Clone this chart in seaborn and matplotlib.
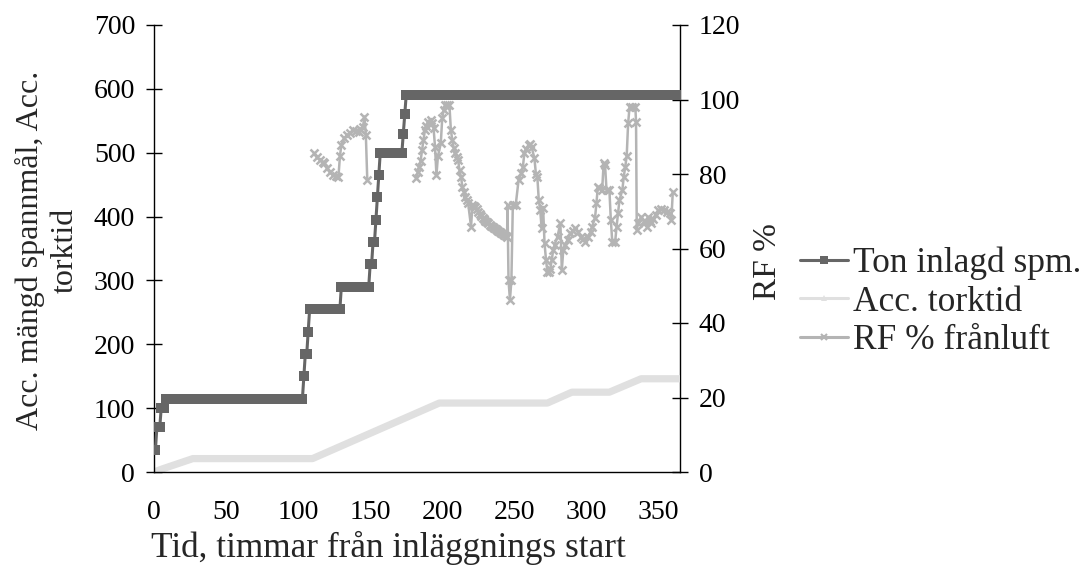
import numpy as np
import pandas as pd
import matplotlib
matplotlib.use("Agg")
import matplotlib.pyplot as plt
from matplotlib.lines import Line2D
import seaborn as sns

# ---------------- data ----------------
# Ton inlagd spm. (step readings: hour where value starts, accumulated tonnes)
ton_step_hours = [0, 2, 5, 8, 104, 105, 107, 108, 130, 150, 152, 154, 155, 156, 157, 173, 174, 175]
ton_step_values = [35, 70, 100, 115, 150, 185, 220, 255, 290, 325, 360, 395, 430, 465, 500, 530, 560, 590]
ton_last_hour = 365

# Acc. torktid (left axis)
tork_hours = [0, 6, 27, 110, 198, 273, 290, 316, 338, 365]
tork_values = [0, 5, 21, 21, 108, 108, 125, 125, 146, 146]

# RF % frånluft (right axis), two recorded periods
rf1_hours = [111, 113, 115, 117, 118, 120, 122, 124, 126, 128, 129, 130, 132, 134, 136, 138, 140,
             142, 143, 145, 146, 147, 148]
rf1_values = [85.6, 84.5, 83.8, 83.2, 82.9, 81.5, 80.5, 79.7, 79.5, 79.3, 84.7, 87.8, 89.6, 90.5,
              91.0, 91.8, 91.5, 91.4, 92.0, 92.7, 95.4, 90.5, 78.4]
rf2_hours = [182, 183, 184, 185, 186, 187, 188, 189, 190, 192, 193, 194, 195, 196, 197, 199, 200,
             201, 202, 203, 205, 206, 207, 208, 209, 210, 211, 212, 213, 214, 215, 216, 217, 218,
             220, 221, 222, 223, 224, 225, 226, 227, 228, 229, 230, 231, 232, 233, 234, 235, 236,
             237, 238, 239, 240, 241, 242, 243, 244, 245, 245.3, 246, 247, 248, 249, 251, 253, 255,
             256, 257, 258, 260, 261, 262, 264, 265, 266, 267, 268, 269, 270, 271, 272, 273, 274,
             275, 276, 277, 278, 280, 282, 283, 284, 285, 287, 289, 291, 292, 294, 296, 298, 299,
             301, 303, 304, 306, 307, 308, 309, 311, 312, 313, 314, 316, 317, 318, 320, 321, 322,
             323, 325, 326, 327, 328, 329, 330, 332, 334, 334.5, 335, 336, 338, 340, 341, 342, 343,
             344, 345, 346, 348, 350, 352, 354, 356, 358, 359, 360]
rf2_values = [78.8, 80.5, 82.0, 83.5, 86.4, 89.0, 91.8, 93.0, 94.0, 94.5, 93.8, 92.3, 87.3, 79.7,
              84.7, 88.2, 95.0, 97.2, 98.5, 98.5, 98.5, 91.8, 89.1, 87.0, 85.6, 84.5, 83.8, 81.0,
              79.3, 76.6, 75.2, 73.9, 73.0, 72.1, 65.9, 71.7, 71.5, 71.2, 70.5, 69.8, 69.2, 68.7,
              68.3, 67.9, 67.5, 67.1, 66.8, 66.4, 66.1, 65.8, 65.6, 65.3, 65.0, 64.8, 64.5, 64.2,
              64.0, 63.7, 63.3, 63.2, 71.7, 51.5, 46.2, 51.5, 71.7, 71.7, 78.4, 80.2, 82.0, 85.6,
              86.8, 87.8, 88.0, 87.3, 84.2, 80.0, 79.3, 73.0, 70.3, 65.4, 71.0, 61.4, 57.0, 53.8,
              53.8, 54.5, 56.9, 59.6, 61.0, 63.2, 66.8, 54.2, 59.6, 61.0, 62.3, 64.1, 64.8, 65.4,
              64.5, 63.2, 62.5, 61.8, 63.2, 64.5, 65.9, 68.1, 72.1, 76.6, 76.2, 75.7, 82.9, 82.4,
              75.7, 75.7, 67.7, 61.8, 61.8, 65.9, 69.4, 73.0, 75.7, 79.3, 82.0, 84.7, 93.6, 98.0,
              98.0, 98.0, 94.0, 65.0, 66.8, 68.5, 67.5, 67.2, 65.9, 68.5, 67.5, 66.8, 68.0, 69.0,
              70.3, 70.5, 70.3, 69.9, 69.4, 67.7, 75.2]

series_labels = ["Ton inlagd spm.", "Acc. torktid", "RF % frånluft"]
x_ticks = [0, 50, 100, 150, 200, 250, 300, 350]
left_ticks = [0, 100, 200, 300, 400, 500, 600, 700]
right_ticks = [0, 20, 40, 60, 80, 100, 120]

# ---------------- tables ----------------
hours = np.arange(0, ton_last_hour + 1)
idx = np.searchsorted(ton_step_hours, hours, side="right") - 1
ton_df = pd.DataFrame({"hour": hours, "ton": np.array(ton_step_values)[idx]})
tork_df = pd.DataFrame({"hour": tork_hours, "tork": tork_values})
rf_df = pd.concat([
    pd.DataFrame({"hour": rf1_hours, "rf": rf1_values, "seg": 1}),
    pd.DataFrame({"hour": rf2_hours, "rf": rf2_values, "seg": 2}),
], ignore_index=True)

# ---------------- style ----------------
sns.set_style("white")
plt.rcParams["font.family"] = ["Liberation Serif", "DejaVu Serif"]

c_ton = "#666666"
c_tork = "#e0e0e0"
c_rf = "#b4b4b4"

fig = plt.figure(figsize=(10.92, 5.77), dpi=100)
ax = fig.add_axes([154 / 1092, 1 - 472 / 577, (680 - 154) / 1092, (472 - 25) / 577])
ax2 = ax.twinx()

# Acc. torktid (left axis)
sns.lineplot(data=tork_df, x="hour", y="tork", ax=ax, color=c_tork, linewidth=5.2,
             estimator=None, sort=False, legend=False, zorder=2)
# Ton inlagd
sns.lineplot(data=ton_df, x="hour", y="ton", ax=ax, color=c_ton, linewidth=2.2,
             marker="s", markersize=7, markeredgewidth=0, estimator=None, sort=False,
             legend=False, zorder=3)
# RF (right axis)
sns.lineplot(data=rf_df, x="hour", y="rf", units="seg", ax=ax2, color=c_rf, linewidth=1.8,
             marker="x", markersize=5.5, markeredgewidth=1.8, markeredgecolor=c_rf,
             estimator=None, sort=False, legend=False)

ax.set_xlim(0, 365)
ax.set_ylim(0, 700)
ax2.set_ylim(0, 120)
ax.set_xticks(x_ticks)
ax.set_yticks(left_ticks)
ax2.set_yticks(right_ticks)
ax.set_xlabel("")
ax.set_ylabel("")
ax2.set_ylabel("")

for a in (ax, ax2):
    for s in a.spines.values():
        s.set_visible(False)
    a.grid(False)
    a.patch.set_visible(False)
ax.spines["left"].set_visible(True)
ax.spines["bottom"].set_visible(True)
ax2.spines["right"].set_visible(True)
for s in (ax.spines["left"], ax.spines["bottom"], ax2.spines["right"]):
    s.set_color("black")
    s.set_linewidth(1.0)

ax.tick_params(axis="both", direction="inout", length=11, width=1, colors="black",
               labelsize=20)
ax.tick_params(axis="y", pad=8)
ax.tick_params(axis="x", pad=15)
ax2.tick_params(axis="y", direction="inout", length=11, width=1, colors="black",
                labelsize=20, pad=8)
ax.set_zorder(ax2.get_zorder() + 1)

fig.text(388 / 1092, 1 - 548 / 577, "Tid, timmar från inläggnings start", ha="center",
         va="center", fontsize=25.4)
fig.text(47 / 1092, 1 - 250 / 577, "Acc. mängd spannmål, Acc.\ntorktid", ha="center",
         va="center", rotation=90, fontsize=23, multialignment="center", linespacing=1.25)
fig.text(768 / 1092, 1 - 262 / 577, "RF %", ha="center", va="center", rotation=90,
         fontsize=24)

handles = [
    Line2D([], [], color=c_ton, lw=2.2, marker="s", markersize=6, markeredgewidth=0),
    Line2D([], [], color=c_tork, lw=2.2, marker="^", markersize=5, markeredgewidth=0),
    Line2D([], [], color=c_rf, lw=2.2, marker="x", markersize=4, markeredgewidth=1.5),
]
fig.legend(handles, series_labels, loc="center left", bbox_to_anchor=(800 / 1092, 1 - 302 / 577),
           frameon=False, fontsize=25.5, handlelength=1.35, handletextpad=0.15,
           labelspacing=0.16, borderaxespad=0, borderpad=0)

fig.savefig("out.png", dpi=100)
